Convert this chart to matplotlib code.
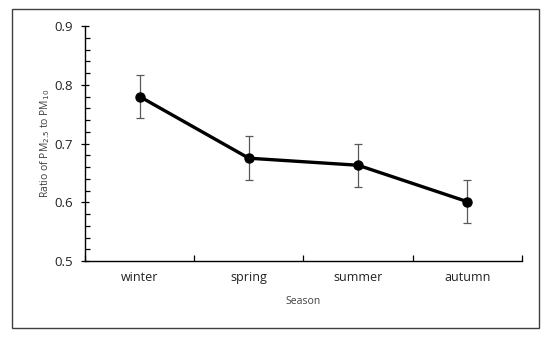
import matplotlib
matplotlib.use('Agg')
import matplotlib.pyplot as plt
from matplotlib.patches import Rectangle
from matplotlib.ticker import MultipleLocator

seasons = ['winter', 'spring', 'summer', 'autumn']
ratio = [0.780, 0.675, 0.663, 0.601]
err = [0.037, 0.037, 0.037, 0.037]

plt.rcParams['font.family'] = ['Open Sans', 'DejaVu Sans']

fig = plt.figure(figsize=(5.5, 3.37), dpi=100)
ax = fig.add_axes([0.1545, 0.2255, 0.7945, 0.6973])

# outer frame
fig.patches.append(Rectangle((12 / 550, 1 - 328 / 337), 527 / 550, 319 / 337,
                             transform=fig.transFigure, fill=False,
                             edgecolor='#404040', linewidth=1.0))

x = [i + 0.5 for i in range(len(seasons))]
ax.errorbar(x, ratio, yerr=err, fmt='none', ecolor='#595959',
            elinewidth=0.9, capsize=3, capthick=0.9, zorder=2)
ax.plot(x, ratio, color='black', linewidth=2.4, marker='o',
        markersize=6.5, zorder=3)

ax.set_xlim(0, 4)
ax.set_ylim(0.5, 0.9)
ax.set_xticks([0, 1, 2, 3, 4])
ax.set_xticklabels([])
ax.set_xticks(x, minor=True)
ax.set_xticklabels(seasons, minor=True, fontsize=9, color='#222222')
ax.tick_params(axis='x', which='major', direction='in', length=4, width=0.9)
ax.tick_params(axis='x', which='minor', length=0, pad=7)

ax.yaxis.set_major_locator(MultipleLocator(0.1))
ax.yaxis.set_minor_locator(MultipleLocator(0.02))
ax.tick_params(axis='y', which='major', direction='inout', length=6, width=0.9,
               labelsize=9.5, labelcolor='#222222', pad=5.5)
ax.tick_params(axis='y', which='minor', direction='in', length=3.5, width=0.9)
ax.yaxis.set_major_formatter(matplotlib.ticker.FormatStrFormatter('%.1f'))

for s in ['top', 'right']:
    ax.spines[s].set_visible(False)
for s in ['left', 'bottom']:
    ax.spines[s].set_linewidth(1.0)

ax.set_xlabel('Season', fontsize=7.5, color='#404040', labelpad=9)
ax.set_ylabel('Ratio of PM$_{2.5}$ to PM$_{10}$', fontsize=7.5,
              color='#404040', labelpad=2)

plt.savefig('out.png', dpi=100)
plt.close()
